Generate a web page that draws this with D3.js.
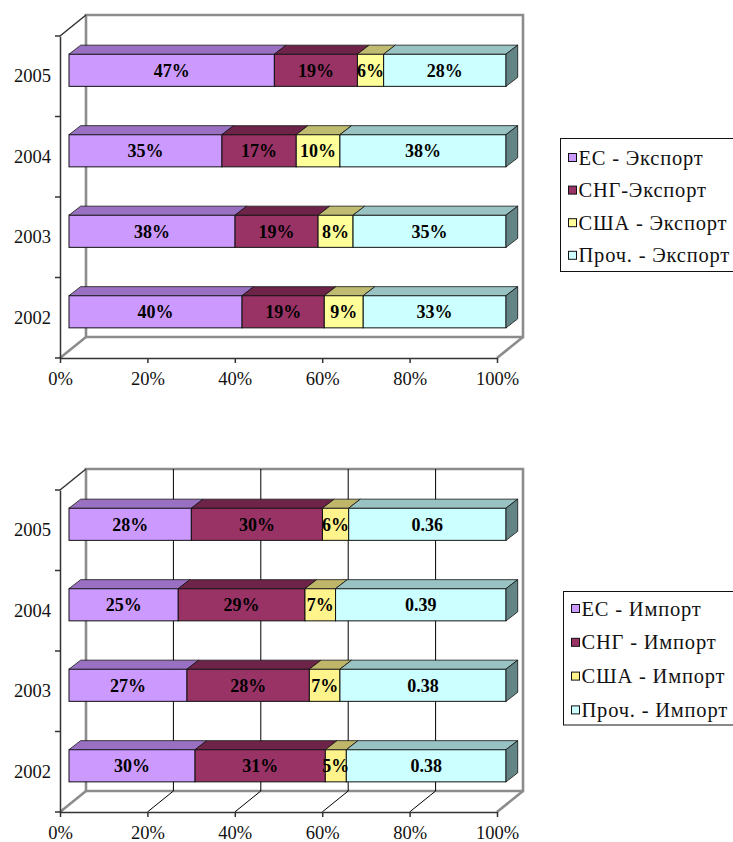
<!DOCTYPE html>
<html><head><meta charset="utf-8">
<script src="https://cdn.jsdelivr.net/npm/d3@7"></script>
<style>
body{margin:0;background:#fff;} svg{display:block;}
</style>
</head><body><svg id="c" width="733" height="842"></svg>
<script>
// ---------- data ----------
const years = ["2002", "2003", "2004", "2005"];
const tickLabels = ["0%", "20%", "40%", "60%", "80%", "100%"];

const exportSeries = ["ЕС - Экспорт", "СНГ-Экспорт", "США - Экспорт", "Проч. - Экспорт"];
const exportEU    = [40, 38, 35, 47];
const exportCIS   = [19, 19, 17, 19];
const exportUSA   = [9, 8, 10, 6];
const exportOther = [33, 35, 38, 28];

const importSeries = ["ЕС - Импорт", "СНГ - Импорт", "США - Импорт", "Проч. - Импорт"];
const importEU    = [30, 27, 25, 28];
const importCIS   = [31, 28, 29, 30];
const importUSA   = [5, 7, 7, 6];
const importOther = [38, 38, 39, 36];

// label style per series: percent text or decimal share text
const exportLabelStyle = ["pct", "pct", "pct", "pct"];
const importLabelStyle = ["pct", "pct", "pct", "dec"];

// ---------- styling ----------
const FONT = '"Liberation Serif"';
const frontColors = ["#CC99FF", "#993366", "#FFFF99", "#CCFFFF"];
const topColors   = ["#9A70C2", "#6E2449", "#BFBB70", "#99C2C2"];
const sideColor   = "#648585";
const frontColorsImp = ["#CC99FF", "#993366", "#FFF38C", "#CCFFFF"];
const topColorsImp   = ["#9A70C2", "#6E2449", "#BFB66A", "#99C2C2"];

const svg = d3.select("#c");
const DX = 26, DY = 21;           // wall depth projection
const FX0 = 9, FY0 = 6;           // bar front face offset
const FX1 = 20.7, FY1 = 15;       // bar back face offset
const PLOT_H = 322;

function buildRows(series, arrs) {
  return years.map((yr, i) => {
    const r = { year: yr };
    series.forEach((s, j) => r[s] = arrs[j][i]);
    return r;
  });
}

function serif(sel, size, bold) {
  sel.style("font-family", FONT).style("font-size", size + "px");
  if (bold) sel.style("font-weight", "bold");
  return sel;
}

function drawChart(cfg) {
  const g = svg.append("g");
  const top = cfg.top, bottom = top + PLOT_H;
  const x = d3.scaleLinear().domain([0, 1]).range([60, 497]);
  const y = d3.scaleBand().domain(years.slice().reverse()).range([top, bottom]);

  const wall = "#8c8c8c";
  g.append("path")
    .attr("d", `M${x(0)+DX},${bottom-DY}V${top-DY}H${x(1)+DX}V${bottom-DY}Z`)
    .attr("fill", "none").attr("stroke", wall).attr("stroke-width", 2.6);
  g.append("line").attr("x1", x(0)).attr("y1", bottom).attr("x2", x(0)+DX).attr("y2", bottom-DY)
    .attr("stroke", wall).attr("stroke-width", 2.6);
  g.append("line").attr("x1", x(1)).attr("y1", bottom).attr("x2", x(1)+DX).attr("y2", bottom-DY)
    .attr("stroke", wall).attr("stroke-width", 2.6);

  if (cfg.grid) {
    const gt = [0.2, 0.4, 0.6, 0.8];
    g.selectAll(".gv").data(gt).join("line")
      .attr("x1", d => x(d)+DX).attr("x2", d => x(d)+DX)
      .attr("y1", top-DY).attr("y2", bottom-DY)
      .attr("stroke", "#000").attr("stroke-width", 1);
    g.selectAll(".gf").data(gt).join("line")
      .attr("x1", d => x(d)).attr("y1", bottom)
      .attr("x2", d => x(d)+DX).attr("y2", bottom-DY)
      .attr("stroke", "#000").attr("stroke-width", 1);
  }

  g.append("line").attr("x1", x(0)).attr("y1", top).attr("x2", x(0)+DX).attr("y2", top-DY)
    .attr("stroke", "#333").attr("stroke-width", 1.5);

  const xa = g.append("g").attr("transform", `translate(0,${bottom})`)
    .call(d3.axisBottom(x).tickValues([0, .2, .4, .6, .8, 1])
      .tickFormat((d, i) => tickLabels[i]).tickSize(5).tickSizeOuter(0).tickPadding(9));
  xa.attr("font-family", null).attr("font-size", null);
  xa.select(".domain").attr("stroke", "#333").attr("stroke-width", 1.5);
  xa.selectAll(".tick line").attr("stroke", "#333").attr("stroke-width", 1.5);
  serif(xa.selectAll("text"), 18.5).attr("fill", "#111");

  const ya = g.append("g").attr("transform", `translate(${x(0)},0)`)
    .call(d3.axisLeft(y).tickSize(0).tickSizeOuter(0).tickPadding(9));
  ya.attr("font-family", null).attr("font-size", null);
  ya.select(".domain").attr("stroke", "#333").attr("stroke-width", 1.5);
  serif(ya.selectAll("text"), 18.5).attr("fill", "#111");
  const bounds = d3.range(years.length + 1).map(i => top + i * y.step());
  g.selectAll(".yt").data(bounds).join("line")
    .attr("x1", x(0)-5).attr("x2", x(0)).attr("y1", d => d).attr("y2", d => d)
    .attr("stroke", "#333").attr("stroke-width", 1.5);

  const rows = buildRows(cfg.series, cfg.values);
  const stacked = d3.stack().keys(cfg.series).offset(d3.stackOffsetExpand)(rows);
  const bh = y.bandwidth() * 0.4;
  const tdx = FX1 - FX0, tdy = FY1 - FY0;
  const segs = [];
  stacked.forEach((layer, j) => layer.forEach((d, i) => {
    segs.push({ j, i, year: d.data.year, x0: x(d[0]) + FX0, x1: x(d[1]) + FX0,
      yc: y(d.data.year) + y.bandwidth()/2 - FY0, raw: cfg.values[j][i] });
  }));
  const bars = g.append("g");
  bars.selectAll(".f").data(segs).join("rect")
    .attr("x", d => d.x0).attr("y", d => d.yc - bh/2)
    .attr("width", d => d.x1 - d.x0).attr("height", bh)
    .attr("fill", d => cfg.front[d.j]).attr("stroke", "#111").attr("stroke-width", 1);
  bars.selectAll(".t").data(segs).join("path")
    .attr("d", d => { const yt = d.yc - bh/2;
      return `M${d.x0},${yt}L${d.x0+tdx},${yt-tdy}L${d.x1+tdx},${yt-tdy}L${d.x1},${yt}Z`; })
    .attr("fill", d => cfg.topc[d.j]).attr("stroke", "#111").attr("stroke-width", 0.8);
  const last = segs.filter(d => d.j === cfg.series.length - 1);
  bars.selectAll(".r").data(last).join("path")
    .attr("d", d => { const yt = d.yc - bh/2, yb = d.yc + bh/2;
      return `M${d.x1},${yt}L${d.x1+tdx},${yt-tdy}L${d.x1+tdx},${yb-tdy}L${d.x1},${yb}Z`; })
    .attr("fill", sideColor).attr("stroke", "#111").attr("stroke-width", 0.8);
  serif(bars.selectAll(".l").data(segs).join("text"), 18, true)
    .attr("x", d => (d.x0 + d.x1)/2).attr("y", d => d.yc).attr("dy", "0.35em")
    .attr("text-anchor", "middle").attr("fill", "#000")
    .text(d => cfg.labelStyle[d.j] === "dec" ? d3.format(".2f")(d.raw/100) : d.raw + "%");

  const L = cfg.legend;
  const lg = g.append("g");
  lg.append("rect").attr("x", L.x).attr("y", L.y).attr("width", 745 - L.x).attr("height", L.h)
    .attr("fill", "#fff").attr("stroke", "#111").attr("stroke-width", 1);
  const items = lg.selectAll(".li").data(cfg.series).join("g")
    .attr("transform", (d, j) => `translate(${L.x + 8},${L.y + L.first + j * L.step})`);
  items.append("rect").attr("x", 0).attr("y", -4).attr("width", 8).attr("height", 8)
    .attr("fill", (d, j) => cfg.front[j]).attr("stroke", "#111").attr("stroke-width", 1);
  serif(items.append("text"), 20.5)
    .attr("x", 10).attr("y", 0).attr("dy", "0.35em")
    .style("letter-spacing", "0.8px").attr("fill", "#111").text(d => d);
}

drawChart({ top: 36, grid: false, series: exportSeries,
  values: [exportEU, exportCIS, exportUSA, exportOther], labelStyle: exportLabelStyle,
  front: frontColors, topc: topColors,
  legend: { x: 560.5, y: 138.5, h: 133, first: 19, step: 32.6 } });

drawChart({ top: 490, grid: true, series: importSeries,
  values: [importEU, importCIS, importUSA, importOther], labelStyle: importLabelStyle,
  front: frontColorsImp, topc: topColorsImp,
  legend: { x: 563.5, y: 591.5, h: 133.5, first: 17, step: 33.8 } });
</script>
</body></html>
